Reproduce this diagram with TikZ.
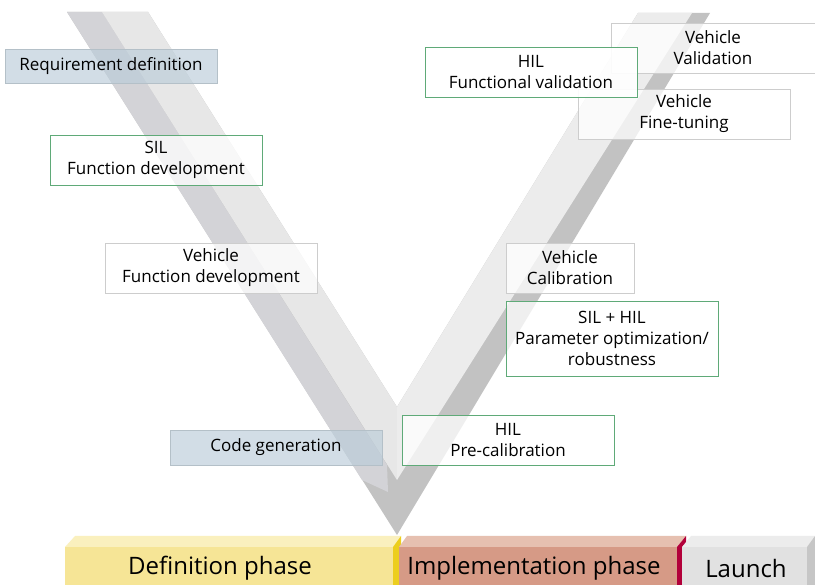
\documentclass[tikz,border=0pt]{standalone}
\usepackage{fontspec}
\setmainfont{Open Sans}
\definecolor{vdark}{RGB}{194,194,194}
\definecolor{vmid}{RGB}{211,211,215}
\definecolor{vlightl}{RGB}{231,231,231}
\definecolor{vlightr}{RGB}{236,236,236}
\definecolor{boxblue}{RGB}{186,204,217}
\definecolor{boxblueline}{RGB}{180,192,200}
\definecolor{boxgreen}{RGB}{95,170,120}
\definecolor{boxgrey}{RGB}{205,205,205}
\definecolor{defront}{RGB}{246,229,150}
\definecolor{detop}{RGB}{250,240,190}
\definecolor{deside}{RGB}{236,206,30}
\definecolor{imfront}{RGB}{214,154,134}
\definecolor{imtop}{RGB}{230,192,176}
\definecolor{imside}{RGB}{178,0,58}
\definecolor{lafront}{RGB}{225,225,225}
\definecolor{latop}{RGB}{236,236,236}
\definecolor{laside}{RGB}{198,198,198}
\begin{document}
\begin{tikzpicture}
  [x=1pt,y=-1pt,
   every node/.style={inner sep=0pt,align=center,font=\fontsize{17}{21}\selectfont},
   stage/.style={minimum width=212pt,minimum height=50pt,line width=0.9pt},
   bluebox/.style={stage,fill=boxblue,fill opacity=0.65,text opacity=1,draw=boxblueline,minimum height=34pt},
   greenbox/.style={stage,fill=white,fill opacity=0.75,text opacity=1,draw=boxgreen},
   greybox/.style={stage,fill=white,fill opacity=0.75,text opacity=1,draw=boxgrey},
   phase/.style={font=\fontsize{24}{28}\selectfont}]
  \fill[white] (0,0) rectangle (815,585);
  \useasboundingbox (0,0) rectangle (815,585);

  % the V
  \fill[vdark] (67,12) -- (148,12) -- (397,407) -- (638,13) -- (710,13) -- (397,535) -- cycle;
  \fill[vmid] (67,12) -- (102,12) -- (387,465) -- (388,492) -- (362,480) -- cycle;
  \fill[vlightl] (102,12) -- (148,12) -- (397,407) -- (397,480) -- cycle;
  \fill[vlightr] (638,13) -- (692,13) -- (397,480) -- (397,407) -- cycle;

  % steps
  \node[greybox,minimum width=204pt] (vval) at (713,48) {Vehicle\\Validation};
  \node[greybox] (vfine) at (684,114) {Vehicle\\Fine-tuning};
  \node[bluebox] (req) at (111,66) {Requirement definition};
  \node[greenbox,fill opacity=0.9] (hilval) at (531,72) {HIL\\Functional validation};
  \node[greenbox] (sil) at (156,160) {SIL\\Function development};
  \node[greybox] (vfdev) at (211,268) {Vehicle\\Function development};
  \node[bluebox,minimum height=35pt] (codegen) at (276,447.5) {Code generation};
  \node[greenbox] (hilpre) at (508,440) {HIL\\Pre-calibration};
  \node[greenbox,minimum height=75pt] (silhil) at (612,338.5) {SIL + HIL\\Parameter optimization/\\robustness};
  \node[greybox,minimum width=128pt] (vcal) at (570,268) {Vehicle\\Calibration};

  % phases
  \fill[detop] (65,547) -- (75,536) -- (401,536) -- (393,547) -- cycle;
  \fill[defront] (65,547) rectangle (393,585);
  \fill[deside] (393,547) -- (401,536) -- (401,585) -- (393,585) -- cycle;
  \fill[imtop] (399,547) -- (407,536) -- (686,536) -- (677,547) -- cycle;
  \fill[imfront] (399,547) rectangle (677,585);
  \fill[imside] (677,547) -- (686,536) -- (686,585) -- (677,585) -- cycle;
  \fill[latop] (682,547) -- (691,536) -- (815,536) -- (807,547) -- cycle;
  \fill[lafront] (682,547) rectangle (807,585);
  \fill[laside] (807,547) -- (815,536) -- (815,585) -- (807,585) -- cycle;
  \node[phase] (defphase) at (220,568) {Definition phase};
  \node[phase] (impphase) at (534,568) {Implementation phase};
  \node[phase] (launch) at (746,568) {Launch};
\end{tikzpicture}
\end{document}
